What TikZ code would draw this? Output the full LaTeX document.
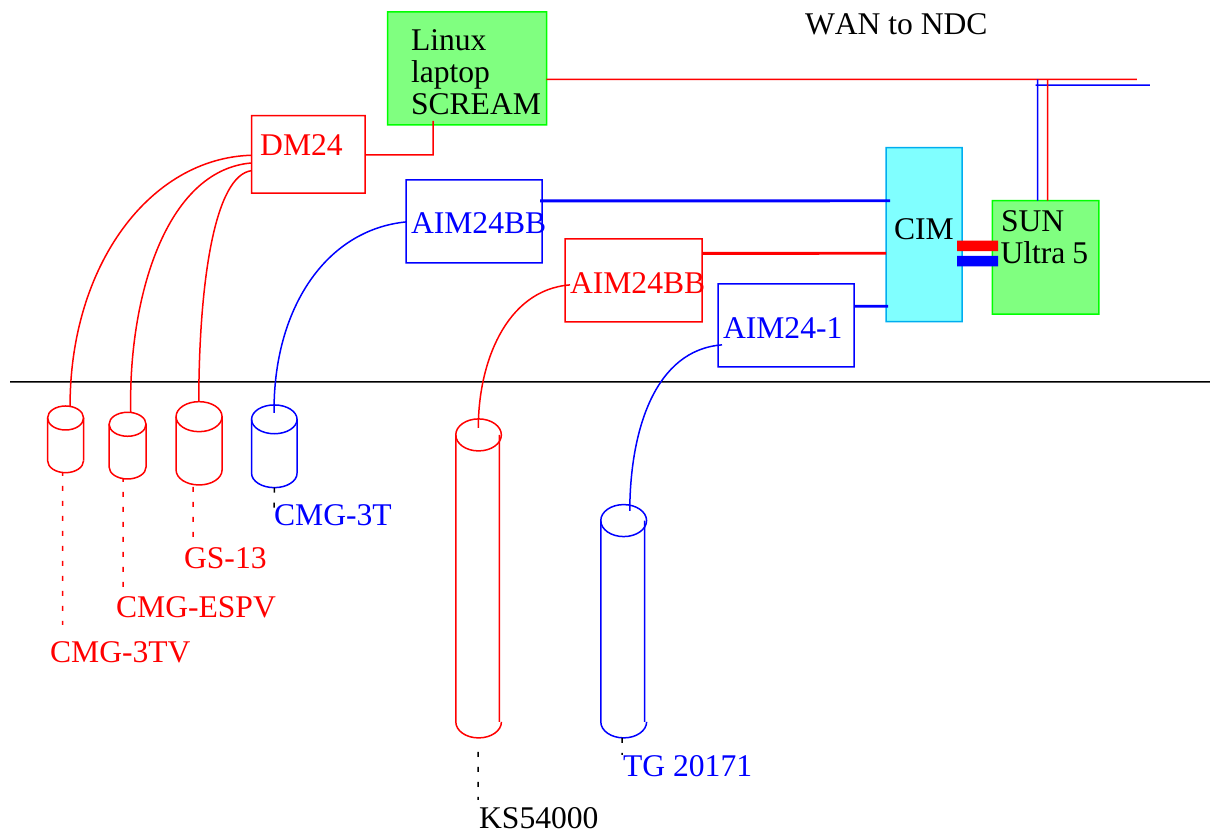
\documentclass[tikz,border=0pt]{standalone}
\usepackage{fontspec}
\setmainfont[Kerning=Off]{Liberation Serif}
\newdimen\px \px=0.75pt
\definecolor{lgreen}{HTML}{80FF80}
\definecolor{lcyan}{HTML}{80FFFF}
\definecolor{pure}{HTML}{0000FF}
\definecolor{pred}{HTML}{FF0000}
\tikzset{
  lab/.style={font=\fontsize{23.7pt}{24pt}\selectfont,inner sep=0pt,outer sep=0pt,anchor=base west},
  boxn/.style args={#1/#2/#3}{draw,line width=1.5\px,anchor=north west,inner sep=0pt,outer sep=0pt,
    font=\fontsize{23.7pt}{24pt}\selectfont,align=left,
    minimum width=#1\px,minimum height=#2\px,text width=#1\px,
    text height=#3\px,text depth={#2\px-#3\px}},
  redbox/.style={boxn=#1,draw=pred,text=pred},
  bluebox/.style={boxn=#1,draw=pure,text=pure},
  greenbox/.style={boxn=#1,draw=green,fill=lgreen,text=black},
  cyanbox/.style={boxn=#1,draw=cyan,fill=lcyan,text=black},
  wire/.style={line width=1.5\px},
  thickwire/.style={line width=2.8\px},
  drop/.style={line width=1.5\px,dash pattern=on 5\px off 10\px},
  dropb/.style={drop,dash phase=2\px},
  bar/.style={line width=10.5\px},
}
% name, left, right of ellipse, right of sides, top of ellipse, end of sides, lowest point, colour
\newcommand{\cyl}[8]{%
  \pgfmathsetmacro{\cxa}{(#2+#3)/2}%
  \pgfmathsetmacro{\crx}{(#3-#2)/2}%
  \pgfmathsetmacro{\cry}{#7-#6}%
  \draw[draw=#8,wire] (\cxa,#5+\cry) ellipse [x radius=\crx,y radius=\cry];
  \draw[draw=#8,wire] (#2,#5+\cry) -- (#2,#6) arc [start angle=180,end angle=360,x radius=\crx,y radius=-\cry];
  \draw[draw=#8,wire] (#4,#6) -- (#4,#5+\cry);
  \coordinate (#1) at (\cxa,#7);
}
\begin{document}
\begin{tikzpicture}[x=0.75pt,y=-0.75pt]
\useasboundingbox (0,0) rectangle (1210,834);
\begin{scope}[rotate=0.01,every node/.append style={transform shape}]
% boxes
\node[greenbox=159/113/38.7] (linux) at (387.5,12) {\hspace*{23.5\px}Linux\\\hspace*{23.5\px}laptop\\\hspace*{23.5\px}SCREAM};
\node[redbox=113.5/77.5/39.7] (dm) at (251.7,115.7) {\hspace*{8.5\px}DM24};
\node[cyanbox=76/174/91.6] (cim) at (886,147.7) {\hspace*{8\px}CIM};
\node[greenbox=106.5/113.5/31] (sun) at (992.3,200.7) {\hspace*{8.7\px}SUN\\\hspace*{8.2\px}{\spaceskip=7\px\xspaceskip=7\px Ultra 5}};
\node[bluebox=136/83/53.7] (aimb) at (406,180) {\hspace*{5\px}AIM24BB};
\node[redbox=137/83/54.5] (aimr) at (565,239) {\hspace*{5\px}AIM24BB};
\node[bluebox=136/83/54.5] (aimo) at (718,284) {\hspace*{5\px}AIM24-1};
\node[lab] (wan) at (805,34.7) {WAN to NDC};

% coordinates for connectors
\coordinate (gl) at (10,382);
\coordinate (gr) at (1210,382);
\coordinate (wanr) at (1137,79.5);
\coordinate (wanb) at (1150,85.3);
\coordinate (wanbl) at (1035.7,85.3);
\coordinate (jb) at (1037.7,79.5);
\coordinate (jr) at (1047.7,79.5);
\coordinate (dl) at (433,155);
\coordinate (lu) at (433,121);
\coordinate (h1) at (540,201);
\coordinate (h1e) at (890,201);
\coordinate (h2) at (702,253.5);
\coordinate (h3) at (855,306.5);
\coordinate (h3e) at (888,306.5);
\coordinate (ba) at (957,246);
\coordinate (bb) at (998,246);
\coordinate (bc) at (957,261.3);
\coordinate (bd) at (998,261.3);

\draw[wire,draw=black] (gl) -- (gr);
\draw[wire,draw=pred] (linux.east |- wanr) -- (wanr);
\draw[wire,draw=pure] (wanbl) -- (wanb);
\draw[wire,draw=pure] (jb) -- (jb |- sun.north);
\draw[wire,draw=pred] (jr) -- (jr |- sun.north);
\draw[wire,draw=pred] (dm.east |- dl) -- (dl) -- (lu);
\draw[thickwire,draw=pure] (h1) -- (h1e);
\draw[thickwire,draw=pred] (h2) -- (cim.west |- h2);
\draw[thickwire,draw=pure] (h3) -- (h3e);
\draw[bar,draw=pred] (ba) -- (bb);
\draw[bar,draw=pure] (bc) -- (bd);

% cylinders
\cyl{c1}{47.5}{83.5}{83.5}{406}{460.7}{472.7}{pred}
\cyl{c2}{109}{146}{146}{412.3}{467}{479}{pred}
\cyl{c3}{176}{222}{222}{401.7}{470}{485}{pred}
\cyl{c4}{251.5}{297}{297}{405}{473.3}{487.7}{pure}
\cyl{c5}{455.7}{501.3}{499.3}{419}{722}{738}{pred}
\cyl{c6}{600.7}{646.5}{644.5}{504.7}{722}{738}{pure}

% sensor cables
\coordinate (t1) at (70,406);
\coordinate (t2) at (130.7,412.3);
\coordinate (t3) at (198.7,401.7);
\coordinate (t4) at (274,413);
\coordinate (t5) at (478.3,428);
\coordinate (t6) at (629.7,511);
\coordinate (d1) at (dm.west |- 0,155.3);
\coordinate (d2) at (dm.west |- 0,163);
\coordinate (d3) at (dm.west |- 0,170.7);
\coordinate (a1) at (aimb.west |- 0,222);
\coordinate (a2) at (570,285);
\coordinate (a3) at (722,345);
\draw[wire,draw=pred] (d1) .. controls (150,158) and (70,265) .. (t1);
\draw[wire,draw=pred] (d2) .. controls (165,170) and (128,300) .. (t2);
\draw[wire,draw=pred] (d3) .. controls (215,175) and (199,280) .. (t3);
\draw[wire,draw=pure] (a1) .. controls (325,230) and (273,310) .. (t4);
\draw[wire,draw=pred] (a2) .. controls (505,290) and (478,365) .. (t5);
\draw[wire,draw=pure] (a3) .. controls (655,350) and (630,430) .. (t6);

% labels
\node[lab,text=pred] (l1) at (50,662.7) {CMG-3TV};
\node[lab,text=pred] (l2) at (116,617.7) {CMG-ESPV};
\node[lab,text=pred] (l3) at (184,568.7) {GS-13};
\node[lab,text=pure] (l4) at (274,525.7) {CMG-3T};
\node[lab,text=black] (l5) at (479,828.7) {KS54000};
\node[lab,text=pure] (l6) at (623,776.7) {TG 20171};

% dashed leaders
\coordinate (s1) at (62.5,473);
\coordinate (s2) at (123,479);
\coordinate (s3) at (193,487);
\coordinate (e1) at (62.5,625);
\coordinate (e2) at (123,592);
\coordinate (e3) at (193,542);
\coordinate (e4) at (274,512);
\coordinate (s5) at (478,752);
\coordinate (e5) at (478,800);
\coordinate (s6) at (622,738);
\coordinate (e6) at (622,755);
\draw[dropb,draw=pred] (s1) -- (e1);
\draw[dropb,draw=pred] (s2) -- (e2);
\draw[drop,draw=pred] (s3) -- (e3);
\draw[drop,draw=black] (c4) -- (e4);
\draw[drop,draw=black] (s5) -- (e5);
\draw[drop,draw=black] (s6) -- (e6);
\end{scope}
\end{tikzpicture}
\end{document}
